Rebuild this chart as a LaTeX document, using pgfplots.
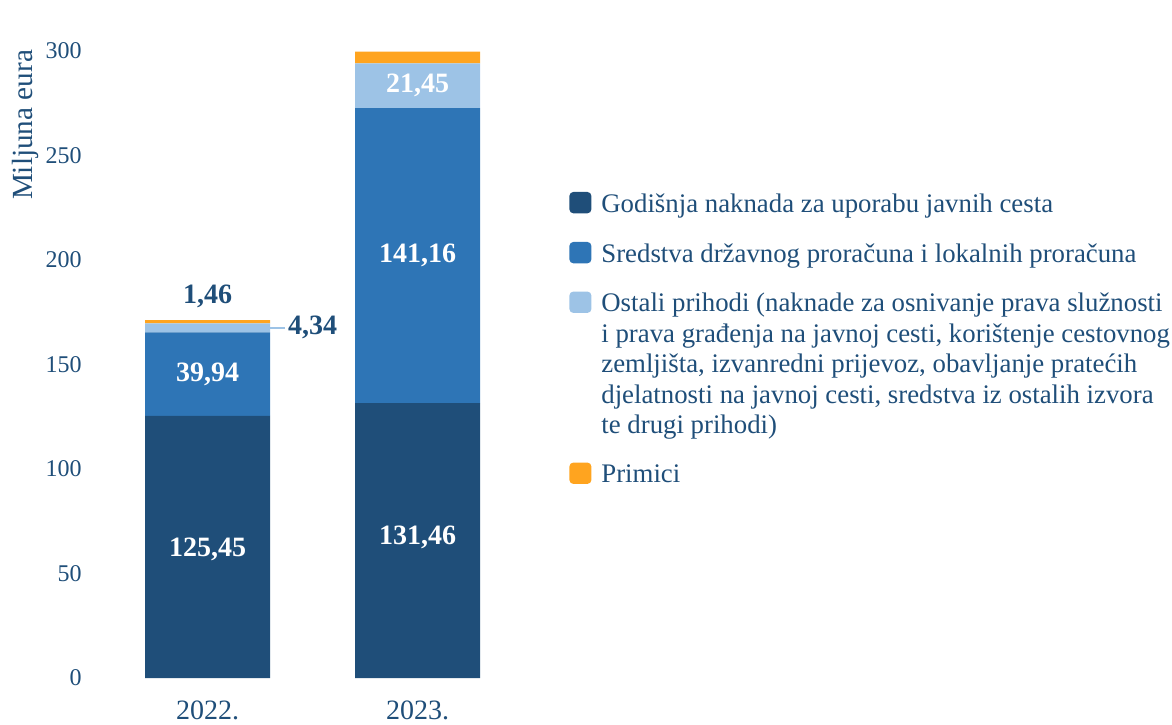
\documentclass[border=0pt]{standalone}
\usepackage{fontspec}
\setmainfont{Liberation Serif}
\usepackage{pgfplots}
\pgfplotsset{compat=1.18}
\definecolor{cDark}{HTML}{1F4E79}
\definecolor{cMid}{HTML}{2E75B6}
\definecolor{cLight}{HTML}{9DC3E6}
\definecolor{cOrange}{HTML}{FFA41F}
\definecolor{cText}{HTML}{1F4E79}
\newcommand{\st}[1]{\rule{0pt}{#1}}
\pgfplotsset{
  mylegend/.style={legend image code/.code={\draw[##1,draw=none,rounded corners=2pt] (0pt,-0.5pt) rectangle (11pt,10.2pt);}},
  base/.style={
    scale only axis, width=210pt, height=313.5pt,
    at={(51.25pt,23pt)}, anchor=south west,
    xmin=-0.5, xmax=1.5, ymin=0, ymax=300,
  }
}
\begin{document}
\begin{tikzpicture}
\useasboundingbox (0,0) rectangle (586pt,362pt);
\begin{axis}[base,
  ybar stacked, bar width=62.5pt,
  axis line style={draw=none}, major tick style={draw=none},
  xtick={0,1}, xticklabels={2022.,2023.},
  ytick={0,50,100,150,200,250,300},
  /pgf/number format/assume math mode=true,
  yticklabel style={font=\fontsize{12}{14}\selectfont, text=cText, inner sep=0pt, xshift=-10.25pt, anchor=east},
  xticklabel style={font=\fontsize{14}{16}\selectfont, text=cText, inner sep=0pt, anchor=north, yshift=-11pt},
  ylabel={Miljuna eura},
  every axis y label/.style={at={(axis description cs:-0.1845,0.882)}, rotate=90, anchor=center, font=\fontsize{14.6}{16}\selectfont, text=cText},
  legend style={draw=none, fill=none, inner sep=0pt, at={(axis description cs:1.1107,0.78)}, anchor=north west,
    font=\fontsize{13.4}{15.5}\selectfont, text=cText,
    cells={anchor=base west}, nodes={inner sep=0pt},
    /tikz/column sep=5pt, /tikz/row sep=0pt},
]
\addplot[fill=cDark, draw=none, mylegend] coordinates {(0,125.45) (1,131.46)};
\addlegendentry{\st{11.5pt}Godišnja naknada za uporabu javnih cesta}
\addplot[fill=cMid, draw=none, mylegend] coordinates {(0,39.94) (1,141.16)};
\addlegendentry{\st{23.5pt}Sredstva državnog proračuna i lokalnih proračuna}
\addplot[fill=cLight, draw=none, mylegend] coordinates {(0,4.34) (1,21.45)};
\addlegendentry{\st{23.3pt}Ostali prihodi (naknade za osnivanje prava služnosti}
\addlegendimage{empty legend}
\addlegendentry{\st{13.75pt}i prava građenja na javnoj cesti, korištenje cestovnog}
\addlegendimage{empty legend}
\addlegendentry{\st{13.75pt}zemljišta, izvanredni prijevoz, obavljanje pratećih}
\addlegendimage{empty legend}
\addlegendentry{\st{13.75pt}djelatnosti na javnoj cesti, sredstva iz ostalih izvora}
\addlegendimage{empty legend}
\addlegendentry{\st{13.75pt}te drugi prihodi)}
\addplot[fill=cOrange, draw=none, mylegend] coordinates {(0,1.46) (1,5.57)};
\addlegendentry{\st{23pt}Primici}
\end{axis}
\begin{axis}[base, hide axis]
\addplot[draw=none, mark=none, nodes near coords, point meta=explicit symbolic,
  every node near coord/.style={anchor=center, text=white, font=\bfseries\fontsize{14}{16}\selectfont}]
  coordinates {(0,61.3)[125,45] (0,145.42)[39,94] (1,67.2)[131,46] (1,202.04)[141,16] (1,283.345)[21,45]};
\addplot[draw=none, mark=none, nodes near coords, point meta=explicit symbolic,
  every node near coord/.style={anchor=center, text=cText, font=\bfseries\fontsize{14}{16}\selectfont}]
  coordinates {(0,182.8)[1,46] (1,312.4)[5,57]};
\addplot[draw=none, mark=none, nodes near coords, point meta=explicit symbolic,
  every node near coord/.style={anchor=west, inner sep=0pt, text=cText, font=\bfseries\fontsize{14}{16}\selectfont}]
  coordinates {(0.382,167.56)[4,34]};
\addplot[cLight, line width=0.8pt, mark=none] coordinates {(0.298,167.56) (0.369,167.56)};
\end{axis}
\end{tikzpicture}
\end{document}
